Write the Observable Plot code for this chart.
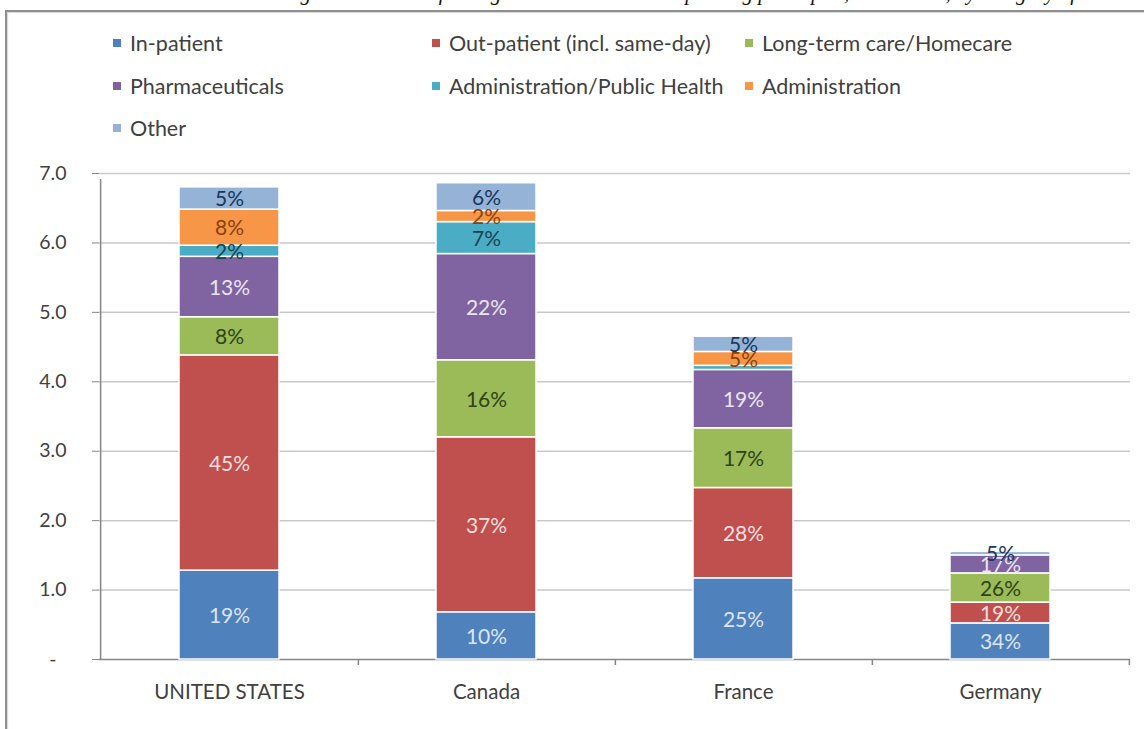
<!DOCTYPE html>
<html>
<head>
<meta charset="utf-8">
<script src="https://cdn.jsdelivr.net/npm/d3@7"></script>
<script src="https://cdn.jsdelivr.net/npm/@observablehq/plot@0.6"></script>
<style>
  html, body { margin: 0; padding: 0; background: #fff; overflow: hidden; }
  #page { position: relative; width: 1144px; height: 729px; overflow: hidden; font-family: Lato, "Open Sans", sans-serif; }
  #title { position: absolute; left: 175px; top: -19px; font: italic 21px "Liberation Serif", "Times New Roman", serif; white-space: nowrap; color: #111; line-height: 24px; }
  #frame { position: absolute; left: 5px; top: 10px; width: 1200px; height: 800px; border-top: 2px solid #8f8f8f; border-left: 2px solid #8f8f8f; box-shadow: inset 1px 1px 1px #d8d8d8; }
  #legend { position: absolute; left: 0; top: 0; width: 1144px; height: 150px; }
  .item { position: absolute; display: flex; align-items: center; font-size: 21.5px; color: #404040; white-space: nowrap; transform: translateY(-50%); }
  .sw { width: 8px; height: 8px; margin-right: 9px; }
  #chart { position: absolute; left: 0; top: 150px; }
</style>
</head>
<body>
<div id="page">
  <div id="title"></div>
  <div id="frame"></div>
  <div id="legend"></div>
  <div id="chart"></div>
</div>
<script>
// ---- data ----
const titleText = "Chart 3: Average annual rate of change in real total health spending per capita, 2000-2008, by category of care";
const countries = ["UNITED STATES", "Canada", "France", "Germany"];
const categories = [
  "In-patient",
  "Out-patient (incl. same-day)",
  "Long-term care/Homecare",
  "Pharmaceuticals",
  "Administration/Public Health",
  "Administration",
  "Other"
];
const colors = ["#4f81bd", "#c0504d", "#9bbb59", "#8064a2", "#4bacc6", "#f79646", "#95b3d7"];
const labelColors = ["#dbe5f1", "#f6dedd", "#2f4314", "#ebe4f2", "#17434f", "#8a4208", "#17375e"];

const usValues      = [1.28, 3.10, 0.55, 0.87, 0.16, 0.52, 0.32];
const canadaValues  = [0.68, 2.52, 1.11, 1.53, 0.46, 0.16, 0.40];
const franceValues  = [1.17, 1.30, 0.86, 0.84, 0.06, 0.20, 0.22];
const germanyValues = [0.52, 0.30, 0.42, 0.26, 0.00, 0.00, 0.05];

const usLabels      = ["19%", "45%", "8%", "13%", "2%", "8%", "5%"];
const canadaLabels  = ["10%", "37%", "16%", "22%", "7%", "2%", "6%"];
const franceLabels  = ["25%", "28%", "17%", "19%", "", "5%", "5%"];
const germanyLabels = ["34%", "19%", "26%", "17%", "", "", "5%"];

const yTicks = [0, 1, 2, 3, 4, 5, 6, 7];

// ---- build table ----
const valuesByCountry = [usValues, canadaValues, franceValues, germanyValues];
const labelsByCountry = [usLabels, canadaLabels, franceLabels, germanyLabels];
const data = [];
countries.forEach((c, ci) => categories.forEach((k, ki) => data.push({
  country: c, category: k, value: valuesByCountry[ci][ki], label: labelsByCountry[ci][ki],
  color: colors[ki], labelColor: labelColors[ki]
})));

// ---- title (clipped at top like the reference) ----
document.getElementById("title").textContent = titleText;

// ---- legend ----
const legendCols = [113, 432, 745];
const legendRows = [43, 86, 128];
const legend = document.getElementById("legend");
categories.forEach((k, i) => {
  const item = document.createElement("div");
  item.className = "item";
  item.style.left = legendCols[i % 3] + "px";
  item.style.top = legendRows[Math.floor(i / 3)] + "px";
  const sw = document.createElement("span");
  sw.className = "sw";
  sw.style.background = colors[i];
  item.appendChild(sw);
  item.appendChild(document.createTextNode(k));
  legend.appendChild(item);
});

// ---- chart ----
const W = 1144, H = 579, mL = 99, mR = 14, mT = 23, mB = 70;
const step = (W - mL - mR) / countries.length;
const axisColor = "#868686";

const plot = Plot.plot({
  width: W, height: H,
  marginLeft: mL, marginRight: mR, marginTop: mT, marginBottom: mB,
  style: { fontFamily: "Lato, 'Open Sans', sans-serif", fontSize: "19px", color: "#404040", background: "transparent", overflow: "visible" },
  x: { domain: countries, paddingInner: 0.612, paddingOuter: 0.306, label: null },
  y: { domain: [0, 7], label: null },
  color: { type: "identity" },
  marks: [
    Plot.gridY(yTicks.filter(d => d > 0), { stroke: "#c9c9c9", strokeOpacity: 1, strokeWidth: 1.5 }),
    Plot.ruleY([0], { stroke: axisColor, strokeWidth: 1.5 }),
    // y-axis line (left edge of first category band) with little tick below
    Plot.ruleX([countries[0]], { x: d => d, dx: -step / 2, y1: 0, y2: 7, insetBottom: -6, stroke: axisColor, strokeWidth: 1.5 }),
    // category boundary ticks
    Plot.ruleX(countries, { x: d => d, dx: step / 2, y1: 0, y2: 0, insetBottom: -6, stroke: axisColor, strokeWidth: 1.5 }),
    Plot.barY(data, { x: "country", y: "value", fill: "color", order: categories, z: "category", stroke: "#ffffff", strokeWidth: 1.5 }),
    Plot.text(data, Plot.stackY({
      x: "country", y: "value", z: "category", order: categories,
      text: "label", fill: "labelColor", fontSize: 21, dy: 1
    })),
    Plot.axisY({
      ticks: yTicks, tickSize: 7, tickPadding: 26, stroke: axisColor, fontSize: 19.5,
      tickFormat: d => d === 0 ? "-\u00A0\u00A0" : d.toFixed(1), fill: "#404040"
    }),
    Plot.axisX({ tickSize: 0, tickPadding: 25, fontSize: 20.5, fill: "#404040" })
  ]
});
document.getElementById("chart").appendChild(plot);
</script>
</body>
</html>
